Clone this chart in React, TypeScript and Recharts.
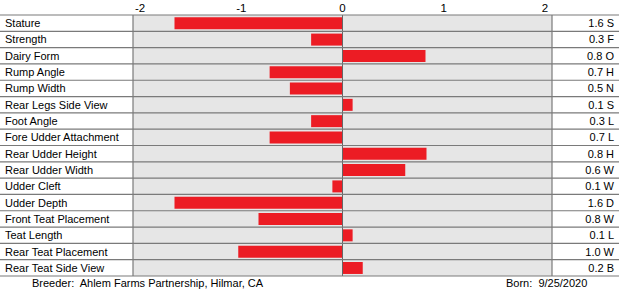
import { BarChart, Bar, XAxis, YAxis, CartesianGrid, ReferenceLine } from "recharts";

// Linear type traits
const traits = [
  "Stature",
  "Strength",
  "Dairy Form",
  "Rump Angle",
  "Rump Width",
  "Rear Legs Side View",
  "Foot Angle",
  "Fore Udder Attachment",
  "Rear Udder Height",
  "Rear Udder Width",
  "Udder Cleft",
  "Udder Depth",
  "Front Teat Placement",
  "Teat Length",
  "Rear Teat Placement",
  "Rear Teat Side View",
];
const values = [-1.66, -0.31, 0.82, -0.72, -0.52, 0.1, -0.31, -0.72, 0.83, 0.62, -0.1, -1.66, -0.83, 0.1, -1.03, 0.2];
const scores = ["1.6 S", "0.3 F", "0.8 O", "0.7 H", "0.5 N", "0.1 S", "0.3 L", "0.7 L", "0.8 H", "0.6 W", "0.1 W", "1.6 D", "0.8 W", "0.1 L", "1.0 W", "0.2 B"];
const xTicks = [-2, -1, 0, 1, 2];

const W = 619;
const H = 295;
const MARGIN = { top: 0, right: 67, bottom: 19, left: 0 };
const X_AXIS_H = 15;
const ROW_H = (H - MARGIN.top - MARGIN.bottom - X_AXIS_H) / traits.length;
const FONT = "'Liberation Sans', Arial, sans-serif";
const FS = 11;
const LINE = "#7a7a7a";

const data = traits.map((name, i) => ({ name, value: values[i], score: scores[i] }));

const TopTick = ({ x, payload }: any) => (
  <text x={x} y={12} textAnchor="middle" fontSize={FS + 0.5} fontFamily={FONT} fill="#000">
    {payload.value}
  </text>
);

// Left trait name + right score, plus the row separator lines across the full width
const RowTick = ({ y, index, payload }: any) => {
  const top = y - ROW_H / 2;
  const bottom = y + ROW_H / 2;
  const last = index === traits.length - 1;
  return (
    <g>
      <line x1={0} x2={W} y1={top} y2={top} stroke={LINE} strokeWidth={1.2} />
      {last && <line x1={0} x2={W} y1={bottom} y2={bottom} stroke={LINE} strokeWidth={1.2} />}
      <text x={5} y={y} dy={4} fontSize={FS} fontFamily={FONT} fill="#000">
        {payload.value}
      </text>
      <text x={614} y={y} dy={4} textAnchor="end" fontSize={FS} fontFamily={FONT} fill="#000">
        {data[index]?.score}
      </text>
    </g>
  );
};

export default function App() {
  return (
    <div style={{ position: "absolute", left: 0, top: 0, width: W, height: H, background: "#fff" }}>
      <BarChart width={W} height={H} data={data} layout="vertical" margin={MARGIN} barCategoryGap="14%">
        <CartesianGrid horizontal={false} vertical={false} fill="#e6e6e6" />
        <XAxis
          type="number"
          orientation="top"
          domain={[-2.07, 2.07]}
          ticks={xTicks}
          height={X_AXIS_H}
          axisLine={false}
          tickLine={false}
          tick={<TopTick />}
          allowDataOverflow
        />
        <YAxis
          type="category"
          dataKey="name"
          width={133}
          axisLine={{ stroke: LINE, strokeWidth: 1.2 }}
          tickLine={false}
          tick={<RowTick />}
          interval={0}
        />
        <Bar dataKey="value" fill="#ec1c24" isAnimationActive={false} />
        <ReferenceLine x={0} stroke="#666" strokeWidth={1} />
        <ReferenceLine x={2.07} stroke={LINE} strokeWidth={1.2} />
      </BarChart>
      <div
        style={{
          position: "absolute",
          left: 32,
          top: 277,
          fontFamily: FONT,
          fontSize: FS,
          whiteSpace: "pre",
          color: "#000",
        }}
      >
        {"Breeder:  Ahlem Farms Partnership, Hilmar, CA"}
      </div>
      <div
        style={{
          position: "absolute",
          left: 506,
          top: 277,
          fontFamily: FONT,
          fontSize: FS,
          whiteSpace: "pre",
          color: "#000",
        }}
      >
        {"Born:  9/25/2020"}
      </div>
    </div>
  );
}
